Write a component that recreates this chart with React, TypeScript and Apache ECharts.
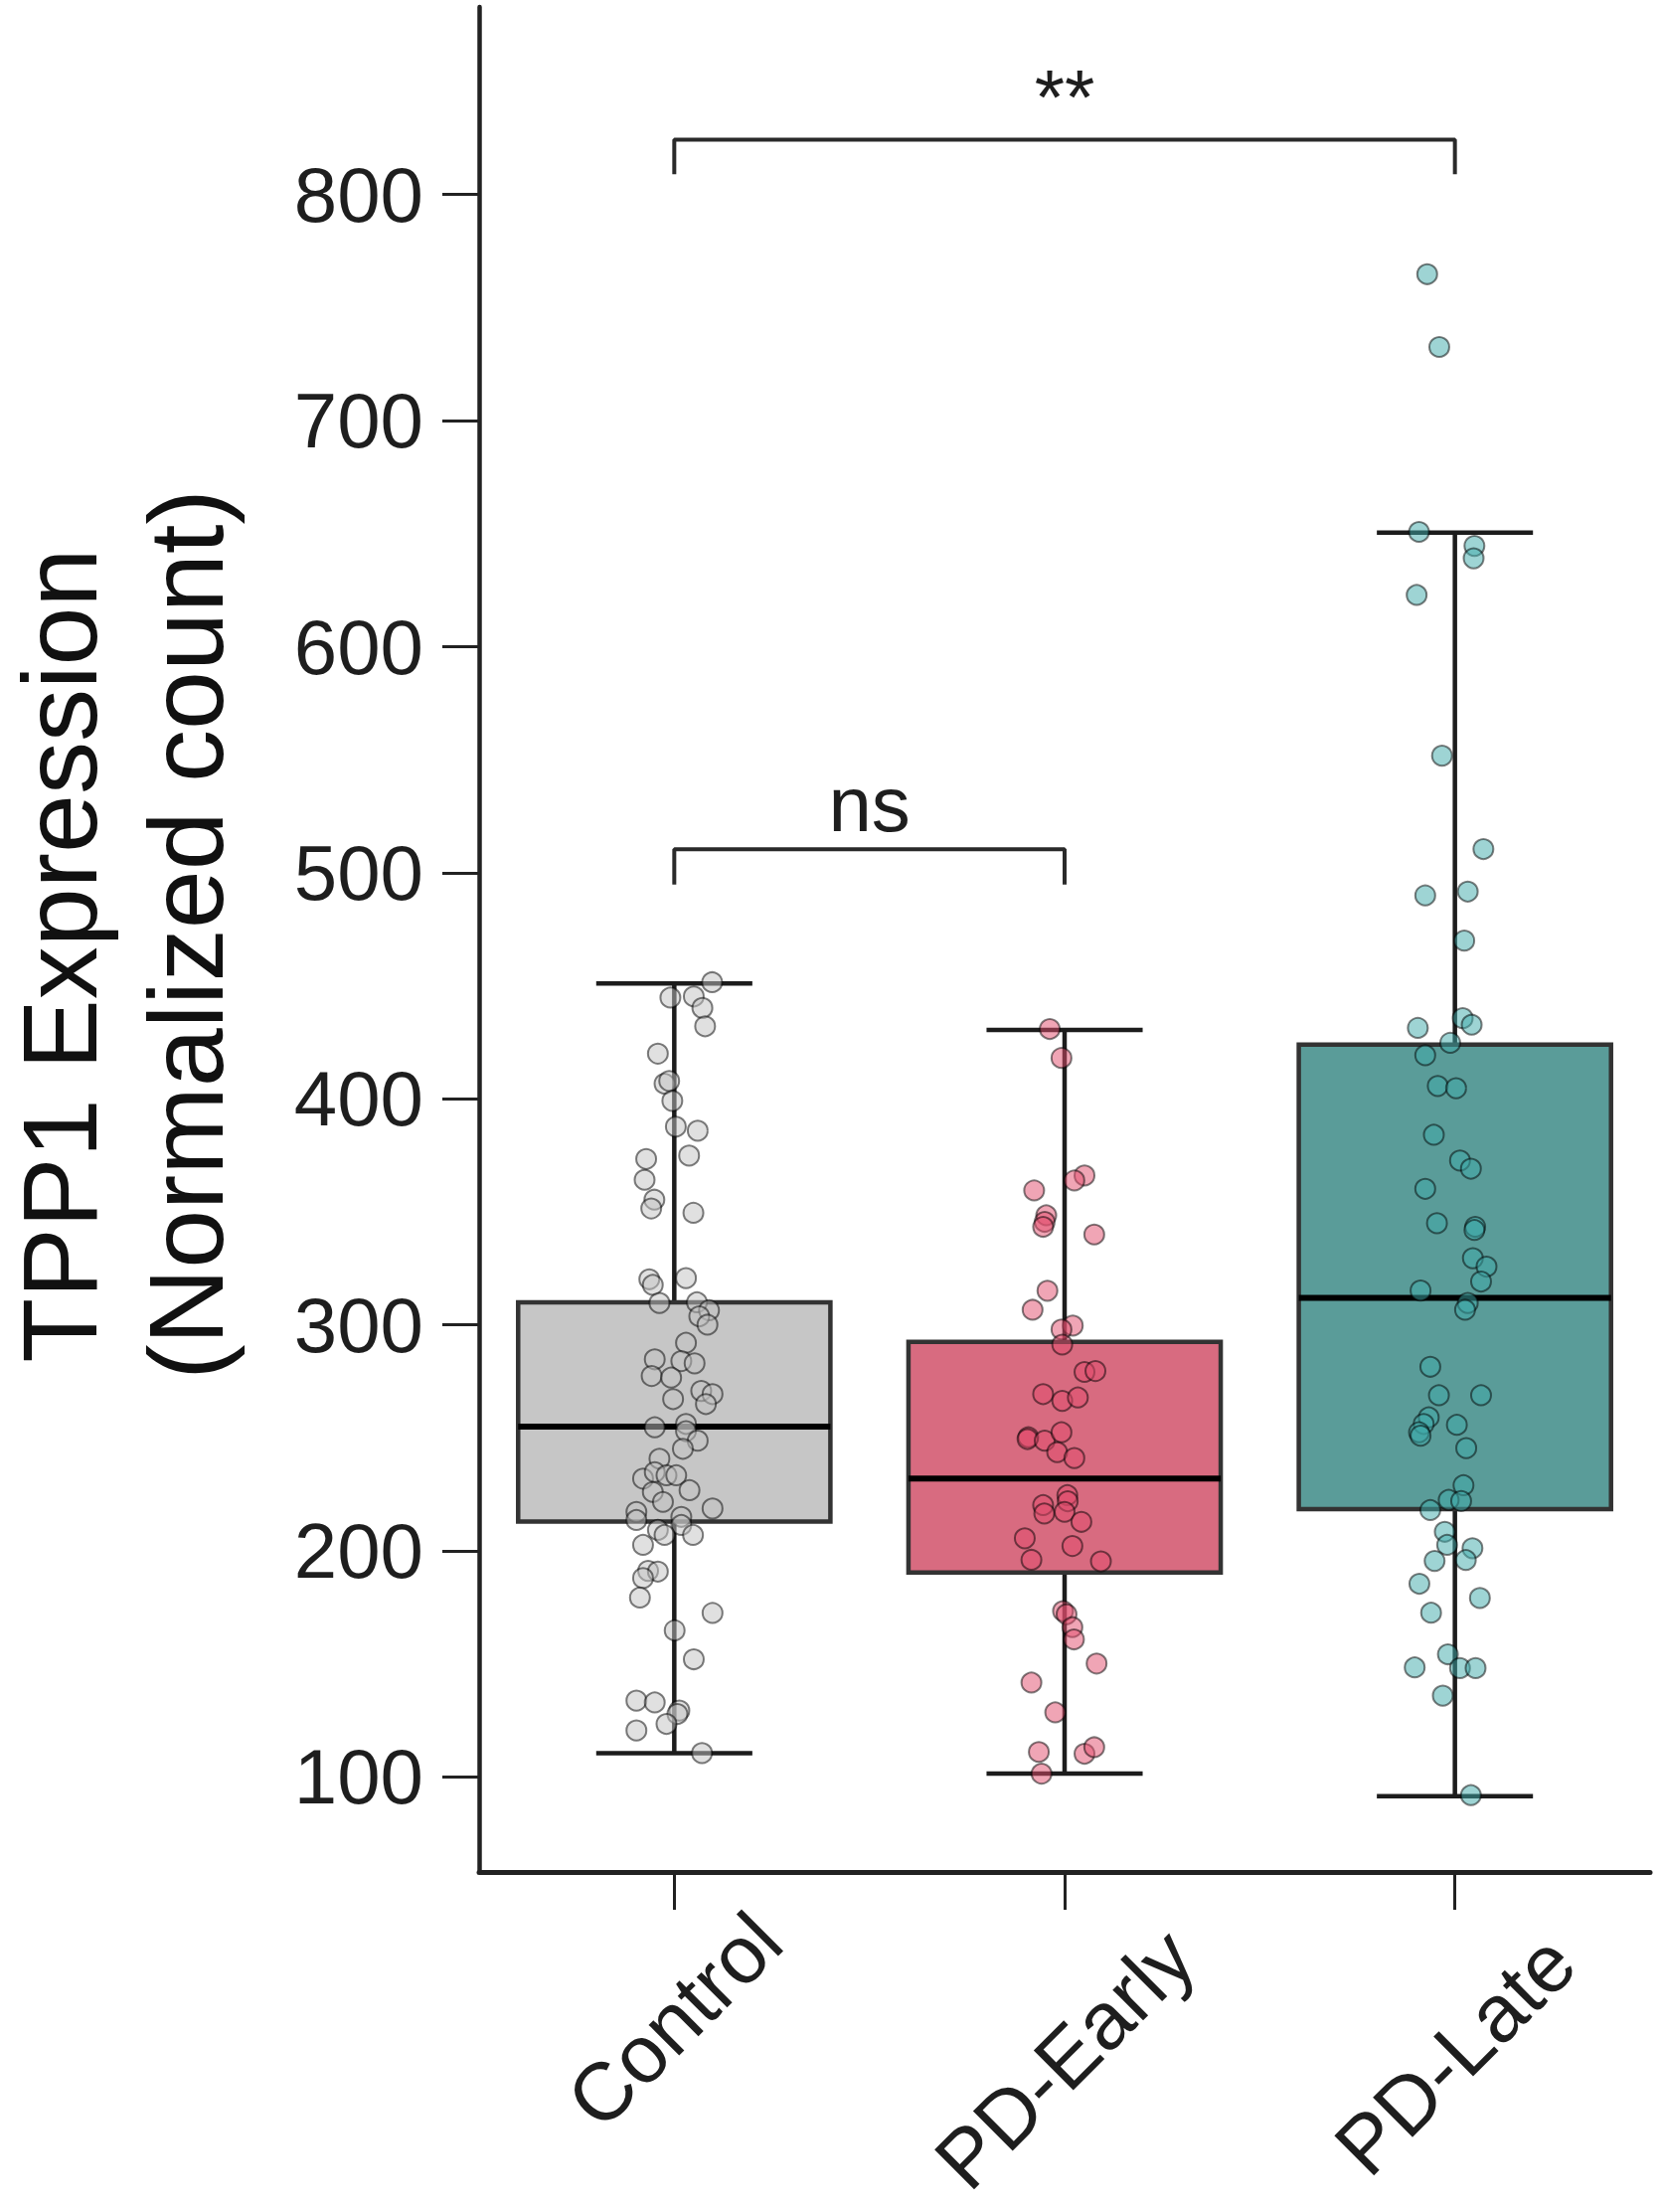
import React, { useEffect, useRef } from "react";
import * as echarts from "echarts";

// ---------- data ----------
const categories = ["Control", "PD-Early", "PD-Late"];
const yTickValues = [100, 200, 300, 400, 500, 600, 700, 800];
const xTickValues = [0, 1, 2];

// box stats: [lower whisker, Q1, median, Q3, upper whisker]
const controlBox = [110.5, 213, 255, 310, 451];
const earlyBox = [101.5, 190.5, 232, 292.5, 430.5];
const lateBox = [91.5, 218.5, 312, 424, 650.5];

const controlValues = [
  451.6, 444.8, 445.3, 440.2, 432.1, 420.0, 406.7, 407.9, 399.1, 387.7, 385.9, 374.9, 373.4, 364.2,
  355.4, 351.5, 349.6, 320.2, 317.7, 320.7, 309.7, 310.0, 306.5, 303.8, 300.1, 292.1, 284.8, 284.0,
  283.0, 277.4, 276.7, 270.8, 269.4, 267.2, 265.0, 254.7, 256.2, 253.0, 248.8, 245.2, 240.8, 232.0,
  234.9, 233.5, 233.5, 226.9, 226.1, 221.7, 218.8, 217.3, 213.7, 215.1, 211.5, 209.3, 207.1, 207.1,
  202.7, 191.2, 190.9, 188.0, 179.4, 172.6, 164.9, 152.1, 133.8, 133.0, 129.4, 127.9, 123.5, 120.6,
  110.6,
];
const controlJitter = [
  0.097, -0.01, 0.05, 0.072, 0.079, -0.042, -0.025, -0.013, -0.005, 0.004, 0.06, 0.038, -0.072, -0.076,
  -0.051, -0.059, 0.049, -0.064, -0.055, 0.03, -0.038, 0.058, 0.089, 0.064, 0.085, 0.03, -0.05, 0.018,
  0.052, -0.058, -0.008, 0.069, 0.098, -0.003, 0.081, -0.05, 0.03, 0.03, 0.06, 0.022, -0.038, -0.08,
  -0.05, -0.02, 0.005, 0.039, -0.055, -0.029, 0.098, -0.097, -0.097, 0.018, 0.018, -0.042, -0.025, 0.048,
  -0.08, -0.067, -0.042, -0.08, -0.088, 0.098, 0.001, 0.05, -0.097, -0.05, 0.013, 0.008, -0.02, -0.097,
  0.071,
];

const earlyValues = [
  430.9, 418.1, 366.1, 363.9, 359.5, 348.5, 345.6, 343.4, 340.0, 315.1, 306.7, 299.7, 298.0, 291.3,
  279.2, 279.6, 269.4, 266.4, 267.9, 250.3, 249.5, 248.8, 252.5, 243.7, 241.1, 224.7, 222.0, 220.3,
  216.6, 217.3, 212.9, 205.6, 202.2, 196.1, 195.4, 173.4, 172.0, 166.3, 160.9, 150.2, 141.8, 128.6,
  111.1, 110.3, 113.2, 101.5,
];
const earlyJitter = [
  -0.038, -0.008, 0.051, 0.025, -0.078, -0.047, -0.051, -0.055, 0.076, -0.044, -0.082, 0.021, -0.008, -0.006,
  0.051, 0.079, -0.055, -0.006, 0.034, -0.093, -0.095, -0.051, -0.008, -0.019, 0.025, 0.007, 0.008, -0.055,
  -0.052, 0.0, 0.043, -0.102, 0.02, -0.085, 0.093, -0.004, 0.005, 0.02, 0.024, 0.082, -0.085, -0.024,
  -0.066, 0.051, 0.076, -0.059,
];

const lateValues = [
  764.8, 732.6, 650.8, 644.6, 639.1, 622.9, 551.8, 510.5, 490.0, 491.7, 470.0, 431.4, 435.7, 432.8,
  424.8, 419.3, 405.7, 404.7, 384.1, 372.7, 369.1, 360.2, 345.0, 343.4, 342.0, 329.5, 325.8, 319.2,
  315.2, 309.7, 306.7, 281.5, 268.9, 268.9, 259.1, 256.2, 252.5, 251.0, 255.8, 245.5, 229.1, 222.6,
  222.1, 218.1, 208.5, 202.7, 201.2, 195.6, 196.0, 185.5, 179.2, 172.7, 154.3, 148.5, 148.2, 148.2,
  136.0, 92.0,
];
const lateJitter = [
  -0.071, -0.04, -0.092, 0.05, 0.048, -0.098, -0.033, 0.073, -0.076, 0.033, 0.024, -0.095, 0.02, 0.043,
  -0.012, -0.076, -0.044, 0.003, -0.054, 0.013, 0.041, -0.076, -0.046, 0.052, 0.05, 0.046, 0.081, 0.067,
  -0.088, 0.033, 0.026, -0.063, -0.041, 0.067, -0.067, -0.08, -0.092, -0.088, 0.005, 0.029, 0.022, -0.016,
  0.016, -0.063, -0.026, -0.02, 0.045, -0.052, 0.028, -0.091, 0.064, -0.061, -0.018, -0.103, 0.013, 0.053,
  -0.031, 0.041,
];

// significance brackets
const bracketFrom = [0, 0];
const bracketTo = [1, 2];
const bracketTop = [510.4, 824.3];
const bracketFoot = [494.8, 809];
const bracketLabelY = [530.4, 843];
const bracketLabels = ["ns", "**"];

// ---------- styles ----------
const boxFills = ["#c6c6c6", "#d86b80", "#5a9c99"];
const pointColors = ["#c1c1c1", "#e14b6b", "#3da9a9"];
const FONT = "'Liberation Sans', Arial, sans-serif";
const TEXT = "#1e1e1e";

export default function App() {
  const ref = useRef<HTMLDivElement>(null);

  useEffect(() => {
    if (!ref.current) return;
    const chart = echarts.init(ref.current, undefined, { renderer: "svg" });

    const boxData = [controlBox, earlyBox, lateBox].map((b, i) => [i, ...b]);
    const groups = [
      { v: controlValues, j: controlJitter },
      { v: earlyValues, j: earlyJitter },
      { v: lateValues, j: lateJitter },
    ];

    const scatterSeries = groups.map((g, gi) => ({
      type: "scatter",
      name: categories[gi],
      z: 5,
      symbol: "circle",
      symbolSize: 20,
      data: g.v.map((val, k) => [gi + g.j[k], val]),
      itemStyle: {
        color: pointColors[gi],
        borderColor: "#000000",
        borderWidth: 2,
        opacity: 0.5,
      },
      silent: true,
    }));

    const bracketSeries = bracketLabels.map((lab, bi) => ({
      type: "line",
      z: 6,
      symbol: "none",
      silent: true,
      data: [
        [bracketFrom[bi], bracketFoot[bi]],
        [bracketFrom[bi], bracketTop[bi]],
        [bracketTo[bi], bracketTop[bi]],
        [bracketTo[bi], bracketFoot[bi]],
      ],
      lineStyle: { color: "#2a2a2a", width: 4 },
    }));

    const bracketText = {
      type: "custom",
      z: 7,
      silent: true,
      data: bracketLabels.map((lab, bi) => [(bracketFrom[bi] + bracketTo[bi]) / 2, bracketLabelY[bi], bi]),
      encode: { x: 0, y: 1 },
      renderItem: (params: any, api: any) => {
        const p = api.coord([api.value(0), api.value(1)]);
        return {
          type: "text",
          x: p[0],
          y: p[1],
          style: {
            text: bracketLabels[api.value(2)],
            fontSize: 78,
            fontFamily: FONT,
            fill: TEXT,
            align: "center",
            verticalAlign: "middle",
          },
        };
      },
    };

    const option: any = {
      animation: false,
      backgroundColor: "#ffffff",
      grid: {
        left: 482,
        right: 12,
        top: 7,
        bottom: 342,
        outerBoundsMode: "none",
      },
      xAxis: {
        type: "value",
        min: -0.5,
        max: 2.5,
        splitLine: { show: false },
        axisLine: { show: true, onZero: false, lineStyle: { color: "#222222", width: 5 } },
        axisTick: {
          show: true,
          customValues: xTickValues,
          length: 38,
          lineStyle: { color: "#222222", width: 3 },
        },
        axisLabel: {
          show: true,
          customValues: xTickValues,
          rotate: 45,
          align: "center",
          verticalAlign: "middle",
          margin: 149,
          formatter: (v: number) => {
            const i = Math.round(v);
            return `{c${i}|${categories[i]}}`;
          },
          rich: {
            c0: { fontSize: 82, fontFamily: FONT, color: TEXT },
            c1: { fontSize: 82, fontFamily: FONT, color: TEXT, padding: [55, 55, 0, 0] },
            c2: { fontSize: 82, fontFamily: FONT, color: TEXT, padding: [49, 49, 0, 0] },
          },
        },
      },
      yAxis: {
        type: "value",
        min: 58,
        max: 883,
        name: "{a|TPP1 Expression}\n{b|(Normalized count)}",
        nameLocation: "middle",
        nameRotate: 90,
        nameGap: 232,
        nameTextStyle: {
          fontSize: 106,
          fontFamily: FONT,
          color: "#111111",
          lineHeight: 127,
          rich: {
            a: { fontSize: 106, fontFamily: FONT, color: "#111111", lineHeight: 127, padding: [0, 32, 0, 0] },
            b: { fontSize: 106, fontFamily: FONT, color: "#111111", lineHeight: 127, padding: [0, 0, 0, 10] },
          },
        },
        splitLine: { show: false },
        axisLine: { show: true, onZero: false, lineStyle: { color: "#222222", width: 4.5 } },
        axisTick: {
          show: true,
          customValues: yTickValues,
          length: 37,
          lineStyle: { color: "#222222", width: 3 },
        },
        axisLabel: {
          show: true,
          customValues: yTickValues,
          margin: 56,
          fontSize: 78,
          fontFamily: FONT,
          color: TEXT,
        },
      },
      series: [
        {
          type: "custom",
          z: 2,
          silent: true,
          data: boxData,
          encode: { x: 0, y: [1, 2, 3, 4, 5] },
          renderItem: (params: any, api: any) => {
            const i = api.value(0);
            const lo = api.coord([i, api.value(1)]);
            const q1 = api.coord([i, api.value(2)]);
            const med = api.coord([i, api.value(3)]);
            const q3 = api.coord([i, api.value(4)]);
            const hi = api.coord([i, api.value(5)]);
            const half = api.size([0.4, 0])[0];
            const capHalf = api.size([0.2, 0])[0];
            const lineStyle = { stroke: "#1c1c1c", lineWidth: 4.5 };
            return {
              type: "group",
              children: [
                { type: "line", shape: { x1: q3[0], y1: q3[1], x2: hi[0], y2: hi[1] }, style: lineStyle },
                { type: "line", shape: { x1: q1[0], y1: q1[1], x2: lo[0], y2: lo[1] }, style: lineStyle },
                { type: "line", shape: { x1: hi[0] - capHalf, y1: hi[1], x2: hi[0] + capHalf, y2: hi[1] }, style: lineStyle },
                { type: "line", shape: { x1: lo[0] - capHalf, y1: lo[1], x2: lo[0] + capHalf, y2: lo[1] }, style: lineStyle },
                {
                  type: "rect",
                  shape: { x: q3[0] - half, y: q3[1], width: half * 2, height: q1[1] - q3[1] },
                  style: { fill: boxFills[params.dataIndex], stroke: "#333333", lineWidth: 4.5 },
                },
                {
                  type: "line",
                  shape: { x1: med[0] - half, y1: med[1], x2: med[0] + half, y2: med[1] },
                  style: { stroke: "#000000", lineWidth: 6 },
                },
              ],
            };
          },
        },
        ...scatterSeries,
        ...bracketSeries,
        bracketText,
      ],
    };

    chart.setOption(option);
    return () => chart.dispose();
  }, []);

  return (
    <div
      ref={ref}
      style={{ position: "absolute", left: 0, top: 0, width: 1672, height: 2225, background: "#fff" }}
    />
  );
}
